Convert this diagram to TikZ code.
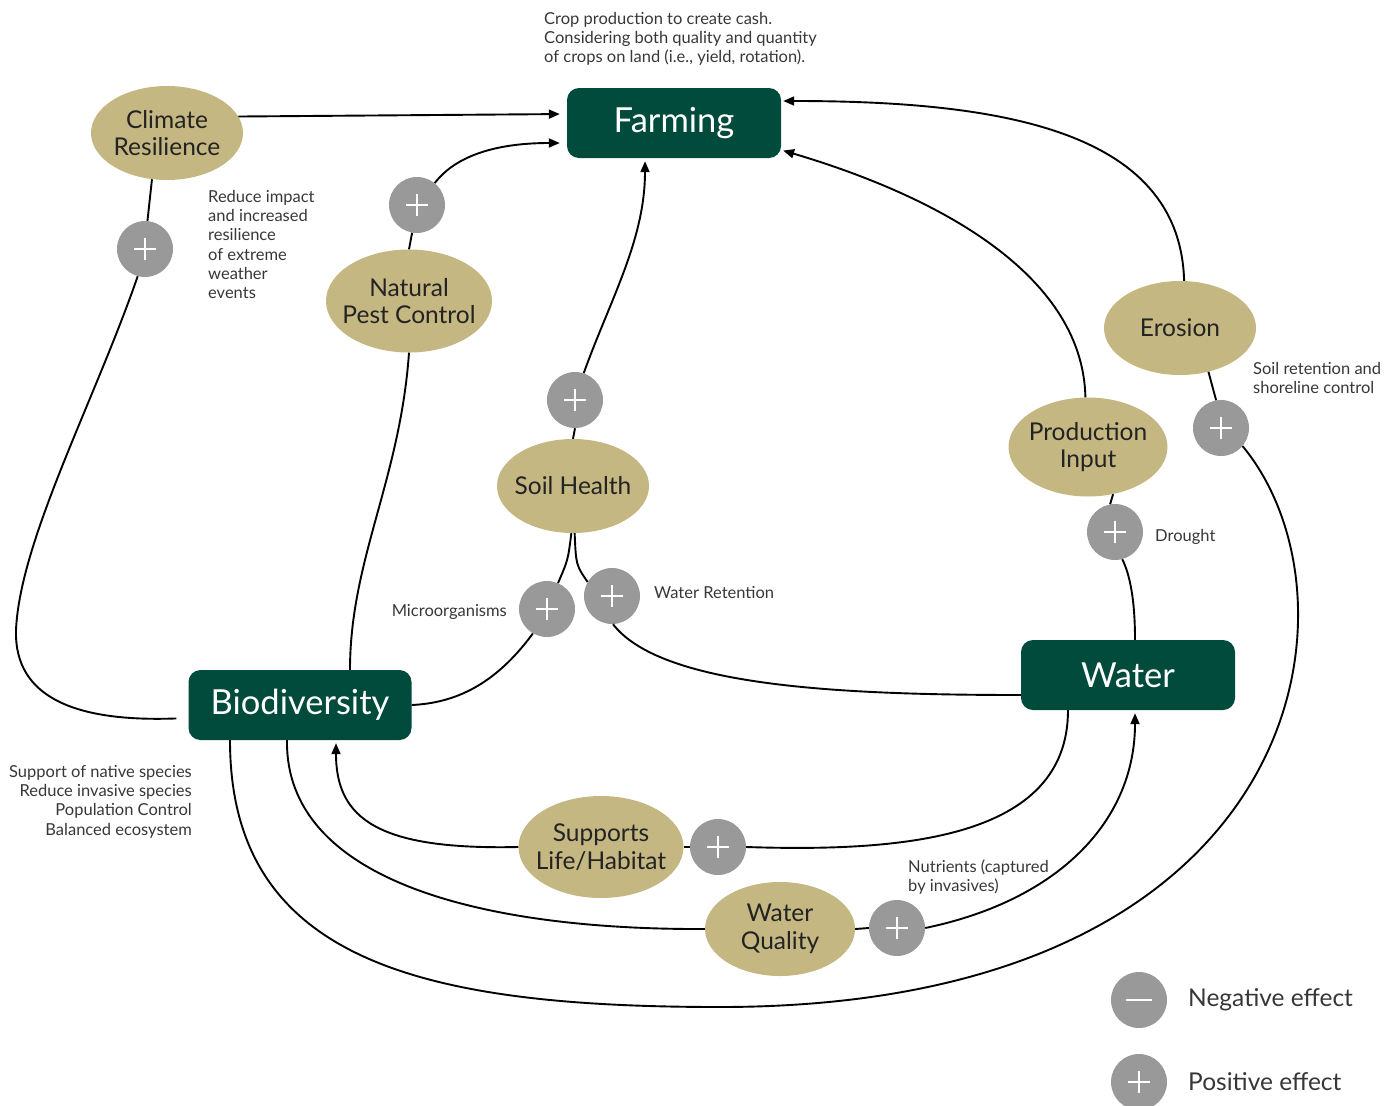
\documentclass[tikz,border=0pt]{standalone}
\usepackage{fontspec}
\setmainfont{Lato}
\usetikzlibrary{arrows.meta,shapes.geometric}
\definecolor{hubgreen}{RGB}{0,75,60}
\definecolor{factortan}{RGB}{196,183,130}
\definecolor{dotgray}{RGB}{153,153,153}
\definecolor{notedark}{RGB}{55,55,55}
\definecolor{labeldark}{RGB}{35,35,35}

\begin{document}
\begin{tikzpicture}[x=1pt,y=-1pt,>={Triangle[length=11pt,width=9pt]},
  hub/.style={rectangle,rounded corners=12pt,fill=hubgreen,text=white,
    minimum width=214pt,minimum height=70pt,font=\fontsize{34.5}{38}\selectfont},
  factor/.style={ellipse,fill=factortan,text=labeldark,inner xsep=-10pt,inner ysep=0pt,align=center,
    minimum width=152pt,minimum height=94pt,font=\fontsize{24.5}{27.5}\selectfont},
  plusdot/.style={circle,fill=dotgray,minimum size=56pt,inner sep=0pt,
    path picture={\draw[white,line width=2.4pt]
      ([xshift=-11pt]path picture bounding box.center) -- ([xshift=11pt]path picture bounding box.center)
      ([yshift=-11pt]path picture bounding box.center) -- ([yshift=11pt]path picture bounding box.center);}},
  minusdot/.style={circle,fill=dotgray,minimum size=56pt,inner sep=0pt,
    path picture={\draw[white,line width=2.4pt]
      ([xshift=-13pt]path picture bounding box.center) -- ([xshift=13pt]path picture bounding box.center);}},
  note/.style={text=notedark,inner sep=0pt,font=\fontsize{16.5}{19.3}\selectfont},
  link/.style={line width=1.9pt,black}]
  \useasboundingbox (0,0) rectangle (1398,1106);
  \clip (0,0) rectangle (1398,1106);

  % --- Hubs ---
  \node[hub] (farm) at (674,123) {Farming};
  \node[hub,minimum width=223pt] (bio) at (300,705) {Biodiversity};
  \node[hub] (water) at (1128,675) {Water};

  % --- Factors ---
  \node[factor] (clim) at (167,133) {Climate\\Resilience};
  \node[factor,minimum width=166pt,minimum height=103pt] (npc) at (409,301) {Natural\\Pest Control};
  \node[factor] (soil) at (573,486) {Soil Health};
  \node[factor] (eros) at (1180,328) {Erosion};
  \node[factor,minimum width=159pt,minimum height=99pt] (prod) at (1088,447) {Production\\Input};
  \node[factor,minimum width=165pt,minimum height=102pt] (habit) at (601,847) {Supports\\Life/Habitat};
  \node[factor,minimum width=150pt] (wq) at (780,929) {Water\\Quality};

  % --- Positive effect markers ---
  \node[plusdot] (pClim) at (145,249) {};
  \node[plusdot] (pPest) at (417,205) {};
  \node[plusdot] (pSoil) at (575,400) {};
  \node[plusdot] (pMicro) at (547,609) {};
  \node[plusdot] (pRet) at (612,596) {};
  \node[plusdot] (pDrought) at (1115,532) {};
  \node[plusdot] (pEros) at (1221,428) {};
  \node[plusdot] (pHabit) at (718,847) {};
  \node[plusdot] (pWq) at (897,928) {};

  % --- Into Farming ---
  \draw[link,->,shorten >=7pt] (clim.13) -- ([yshift=9pt]farm.west);
  \draw[link] (npc.north) -- (pPest.-100);
  \draw[link,->,shorten >=7pt] (pPest.51) .. controls (460,150) and (510,143) .. ([yshift=-20pt]farm.west);
  \draw[link] (soil.north) -- (pSoil.south);
  \draw[link,->,shorten >=3pt] (pSoil.72) .. controls (610,300) and (645,240) .. ([xshift=-29pt]farm.south);
  \draw[link,->,shorten >=2pt] (eros.85) .. controls (1180,130) and (1000,101) .. ([yshift=22pt]farm.east);
  \draw[link,->,shorten >=2pt] (prod.93) .. controls (1083,280) and (950,200) .. ([yshift=-27pt]farm.east);

  % --- Water side ---
  \draw[link] ([xshift=7pt]water.north) .. controls (1135,600) and (1130,575) .. (pDrought.-75);
  \draw[link] (pDrought.100) -- (prod.-62);
  \draw[link] (eros.-57) -- (pEros.100);
  \draw[link] (pEros.-40) .. controls (1370,600) and (1310,1007) .. (720,1007)
    .. controls (420,1007) and (230,960) .. ([xshift=-70pt]bio.south);

  % --- Biodiversity side ---
  \draw[link] (clim.-108) -- (pClim.85);
  \draw[link,shorten >=12pt] (pClim.-105) .. controls (95,400) and (20,540) .. (16,630)
    .. controls (14,700) and (80,722) .. ([yshift=-13pt]bio.west);
  \draw[link] (npc.south) .. controls (400,480) and (350,560) .. ([xshift=50pt]bio.north);
  \draw[link] (soil.-92) .. controls (568,560) .. (pMicro.67);
  \draw[link] (pMicro.-120) .. controls (495,685) and (455,703) .. (bio.east);
  \draw[link] (soil.-88) .. controls (576,565) .. (pRet.150);
  \draw[link] (pRet.-88) .. controls (660,685) and (830,695) .. ([yshift=-20pt]water.west);
  \draw[link] ([xshift=-60pt]water.south) .. controls (1068,840) and (900,852) .. (pHabit.east);
  \draw[link] (habit.east) -- (pHabit.west);
  \draw[link,->,shorten >=3pt] (habit.west) .. controls (380,850) and (336,820) .. ([xshift=36pt]bio.south);
  \draw[link] ([xshift=-13pt]bio.south) .. controls (285,880) and (480,930) .. (wq.west);
  \draw[link] (wq.east) -- (pWq.west);
  \draw[link,->,shorten >=3pt] (pWq.east) .. controls (1060,900) and (1135,820) .. ([xshift=7pt]water.south);

  % --- Notes ---
  \node[note,anchor=north west,align=left] (nFarm) at (544,12)
    {Crop production to create cash.\\Considering both quality and quantity\\of crops on land (i.e., yield, rotation).};
  \node[note,anchor=north west,align=left] (nClim) at (208,190)
    {Reduce impact\\and increased\\resilience\\of extreme\\weather\\events};
  \node[note,anchor=north west,align=left] (nEros) at (1253,362)
    {Soil retention and\\shoreline control};
  \node[note,anchor=west] (nDrought) at (1155,537) {Drought};
  \node[note,anchor=west] (nRet) at (654,593) {Water Retention};
  \node[note,anchor=east] (nMicro) at (507,612) {Microorganisms};
  \node[note,anchor=north east,align=right] (nBio) at (192,765)
    {Support of native species\\Reduce invasive species\\Population Control\\Balanced ecosystem};
  \node[note,anchor=north west,align=left] (nWq) at (908,859)
    {Nutrients (captured\\by invasives)};

  % --- Legend ---
  \node[minusdot] (lNeg) at (1139,1000) {};
  \node[plusdot] (lPos) at (1139,1082) {};
  \node[text=notedark,anchor=west,inner sep=0pt,font=\fontsize{24.5}{28}\selectfont] (tNeg) at (1188,1000) {Negative effect};
  \node[text=notedark,anchor=west,inner sep=0pt,font=\fontsize{24.5}{28}\selectfont] (tPos) at (1188,1082) {Positive effect};
\end{tikzpicture}
\end{document}
